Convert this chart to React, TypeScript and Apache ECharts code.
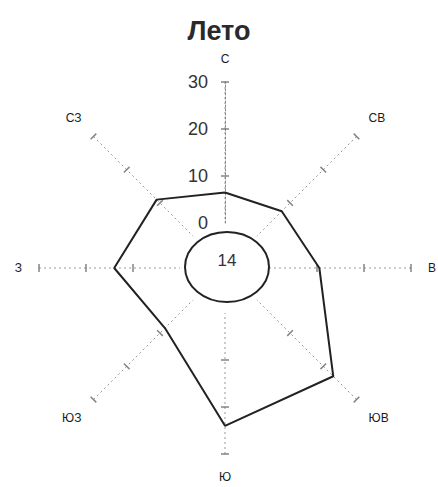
import React, { useEffect, useRef } from "react";
import * as echarts from "echarts";

const title = "Лето";
const directions = ["С", "СВ", "В", "ЮВ", "Ю", "ЮЗ", "З", "СЗ"];
const frequencies = [6.5, 7.5, 10.5, 23, 24, 8.5, 14, 11];
const calm = 14;
const tickValues = [10, 20, 30];

export default function App() {
  const ref = useRef<HTMLDivElement>(null);
  useEffect(() => {
    if (!ref.current) return;
    const chart = echarts.init(ref.current, null, { renderer: "svg" });
    const step = 360 / directions.length;
    const lineData = frequencies.map((v, i) => [v, i * step]);
    lineData.push([frequencies[0], 360]);
    const tickData: number[][] = [];
    directions.forEach((_, i) => tickValues.forEach((t) => tickData.push([t, i * step])));
    const cx = 225;
    const cy = 268;
    chart.setOption({
      animation: false,
      backgroundColor: "#fff",
      title: {
        text: title,
        left: "center",
        top: 12,
        textStyle: { fontSize: 27, fontWeight: "bold", color: "#2a2a2a", fontFamily: "Liberation Sans" },
      },
      polar: { center: [cx, cy], radius: [45, 186] },
      angleAxis: {
        type: "value",
        min: 0,
        max: 360,
        interval: step,
        startAngle: 90,
        clockwise: true,
        axisLine: { show: false },
        axisTick: { show: false },
        axisLabel: {
          margin: 17,
          fontSize: 12,
          color: "#1a1a1a",
          fontFamily: "Liberation Sans",
          showMaxLabel: false,
          formatter: (val: number) => (val >= 360 ? "" : directions[Math.round(val / step)]),
        },
        splitLine: { show: true, lineStyle: { color: "#999", type: [2, 3], width: 1 } },
      },
      radiusAxis: {
        type: "value",
        min: 0,
        max: 30,
        interval: 10,
        axisLine: { show: true, lineStyle: { color: "#888", type: [2, 2], width: 1 } },
        axisTick: { show: false },
        axisLabel: { fontSize: 18, color: "#333", margin: 17, fontFamily: "Liberation Sans" },
        splitLine: { show: false },
      },
      series: [
        {
          type: "scatter",
          coordinateSystem: "polar",
          data: tickData,
          symbol: "rect",
          symbolSize: [8, 1.5],
          symbolRotate: (_v: any, p: any) => -tickData[p.dataIndex][1],
          itemStyle: { color: "#666" },
          silent: true,
        },
        {
          type: "line",
          coordinateSystem: "polar",
          data: lineData,
          symbol: "none",
          lineStyle: { color: "#222", width: 2 },
          silent: true,
        },
      ],
      graphic: [
        {
          type: "ellipse",
          shape: { cx: cx + 2, cy: cy - 1, rx: 42, ry: 35 },
          style: { fill: "#fff", stroke: "#222", lineWidth: 2 },
          z: 100,
        },
        {
          type: "text",
          x: cx + 2,
          y: cy - 8,
          style: {
            text: String(calm),
            fontSize: 17,
            fill: "#333",
            align: "center",
            verticalAlign: "middle",
            fontFamily: "Liberation Sans",
          },
          z: 101,
        },
      ],
    });
    return () => chart.dispose();
  }, []);
  return (
    <div
      ref={ref}
      style={{ position: "fixed", left: 0, top: 0, width: 438, height: 487, background: "#fff" }}
    />
  );
}
